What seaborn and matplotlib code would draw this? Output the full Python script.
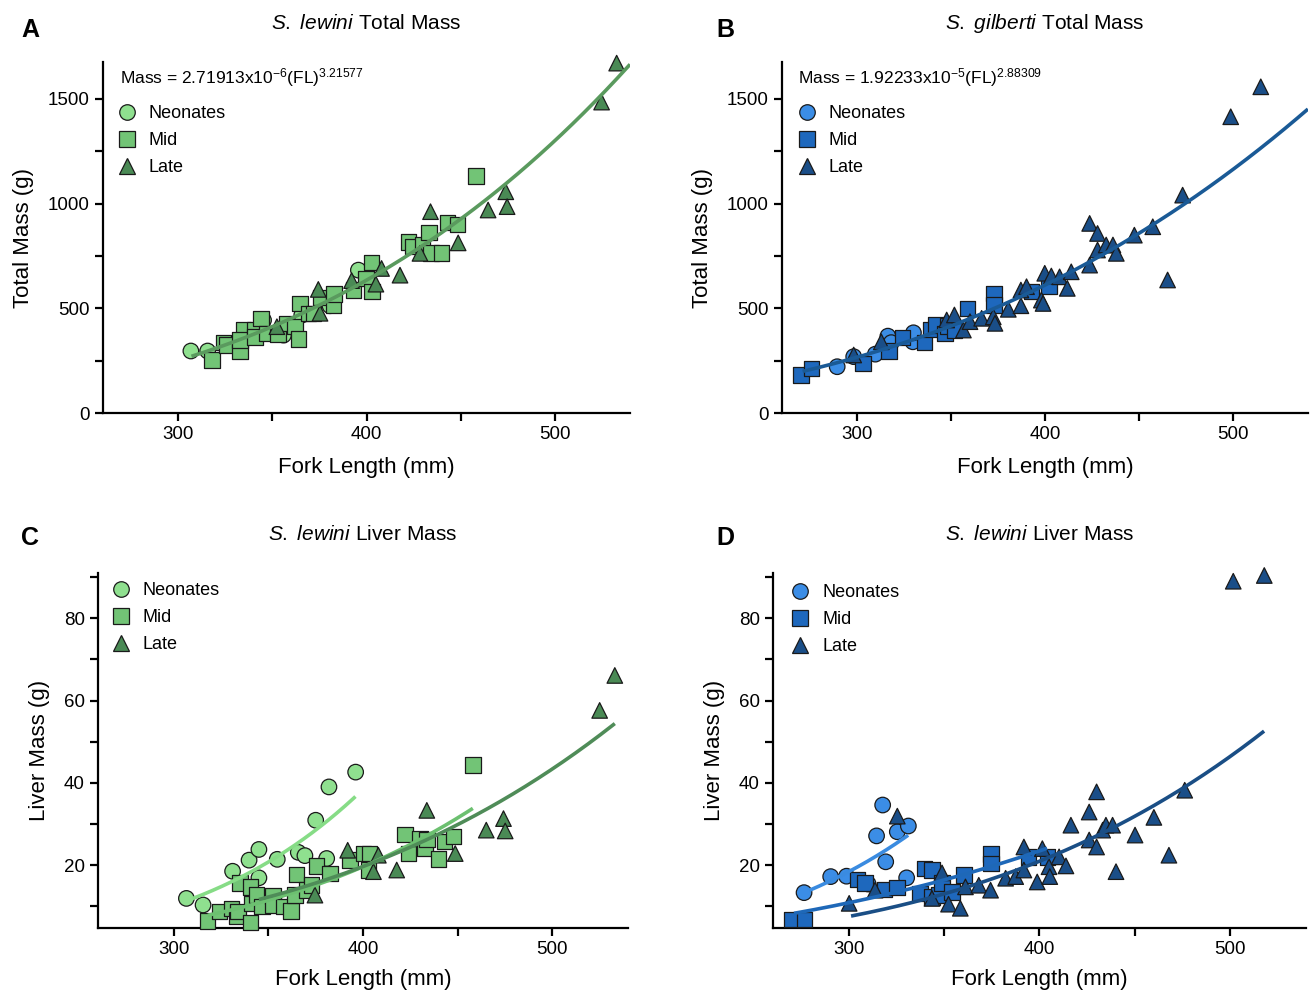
import numpy as np
import pandas as pd
import matplotlib
matplotlib.use('Agg')
import matplotlib.pyplot as plt
import seaborn as sns

sns.set_style('ticks')
plt.rcParams['font.family'] = ['Liberation Sans', 'DejaVu Sans']
plt.rcParams['mathtext.fontset'] = 'custom'
plt.rcParams['mathtext.rm'] = 'Liberation Sans'
plt.rcParams['mathtext.it'] = 'Liberation Sans:italic'
plt.rcParams['mathtext.bf'] = 'Liberation Sans:bold'
plt.rcParams['text.color'] = 'black'
plt.rcParams['axes.labelcolor'] = 'black'

# ---- data ----
# A: S. lewini total mass
A_neo_fl = [306.7, 315.6, 345.3, 355.9, 365.6, 380.6, 395.7]
A_neo_mass = [296, 296, 443, 372, 467, 512, 682]
A_mid_fl = [317.9, 324.0, 325.8, 332.9, 334.7, 332.9, 340.8, 340.8, 344.0, 347.0, 352.9,
            357.6, 362.0, 363.8, 364.7, 369.1, 371.8, 375.9, 382.4, 382.8, 393.0, 399.7,
            402.7, 402.9, 422.2, 424.8, 429.8, 433.2, 434.2, 439.9, 443.0, 448.3, 458.1]
A_mid_mass = [253, 336, 324, 293, 396, 348, 396, 364, 452, 380, 377, 428, 412, 353, 523, 476,
              476, 552, 515, 568, 587, 642, 719, 579, 817, 794, 805, 862, 765, 765, 910, 900, 1131]
A_late_fl = [352.4, 374.4, 375.3, 392.1, 405.0, 408.0, 417.8, 428.4, 434.0, 448.7, 464.6,
             474.0, 474.7, 524.9, 532.9]
A_late_mass = [412, 590, 476, 632, 615, 690, 658, 762, 961, 812, 969, 1056, 985, 1484, 1670]

# B: S. gilberti total mass
B_neo_fl = [289.4, 298.2, 309.7, 316.4, 318.2, 329.7, 330.0]
B_neo_mass = [221, 269, 281, 367, 336, 340, 383]
B_mid_fl = [270.0, 275.8, 303.2, 317.1, 324.2, 335.9, 339.0, 341.9, 346.9, 348.1, 351.8,
            358.7, 372.9, 372.9, 392.8, 402.2]
B_mid_mass = [181, 213, 237, 296, 361, 336, 399, 420, 380, 415, 393, 500, 571, 515, 579, 603]
B_late_fl = [298.2, 312.9, 347.7, 351.8, 356.6, 360.1, 366.3, 372.5, 373.4, 380.5, 387.2,
             387.2, 390.2, 398.1, 399.0, 399.9, 403.4, 407.8, 411.9, 414.0, 423.8, 423.8,
             428.0, 428.0, 432.6, 436.2, 438.0, 447.6, 457.4, 465.3, 473.3, 498.9, 514.9]
B_late_mass = [277, 340, 444, 468, 396, 436, 452, 459, 428, 495, 512, 587, 603, 539, 523, 667,
               654, 650, 595, 674, 706, 905, 857, 778, 802, 802, 762, 849, 889, 635, 1040, 1414, 1557]

# C: S. lewini liver mass
C_neo_fl = [306.7, 315.5, 331.1, 339.8, 345.0, 345.0, 354.7, 365.8, 369.3, 380.8, 375.0, 382.0, 396.1]
C_neo_liver = [11.9, 10.3, 18.5, 21.2, 23.8, 16.9, 21.4, 23.1, 22.3, 21.6, 30.9, 39.0, 42.6]
C_mid_fl = [317.8, 324.3, 330.5, 333.2, 334.0, 334.9, 340.6, 340.6, 341.1, 343.8, 346.7, 352.5,
            352.5, 358.0, 362.0, 364.0, 364.9, 370.2, 372.8, 375.5, 382.5, 393.1, 400.2, 403.3,
            402.8, 422.2, 424.0, 430.2, 432.8, 433.7, 439.8, 443.0, 447.8, 458.0]
C_mid_liver = [6.4, 8.7, 9.5, 7.5, 8.7, 15.6, 14.7, 6.0, 10.7, 12.7, 9.9, 12.5, 10.3, 9.9, 8.9,
               12.7, 17.7, 13.9, 15.1, 19.8, 18.0, 21.2, 22.8, 22.8, 18.8, 27.4, 22.8, 26.5,
               24.1, 26.2, 21.5, 25.7, 26.9, 44.3]
C_late_fl = [374.6, 391.9, 405.5, 408.1, 417.8, 433.7, 448.7, 465.1, 474.2, 475.1, 525.0, 533.0]
C_late_liver = [12.7, 23.6, 18.4, 22.4, 18.8, 33.3, 22.8, 28.5, 31.3, 28.3, 57.6, 66.1]

# D: liver mass (blue panel)
D_neo_fl = [276.3, 290.3, 298.6, 310.0, 314.4, 317.6, 319.2, 325.3, 330.2, 331.1]
D_neo_liver = [13.3, 17.2, 17.3, 15.4, 27.1, 34.6, 20.8, 28.1, 16.9, 29.5]
D_mid_fl = [270.1, 276.6, 304.4, 308.3, 318.5, 325.0, 337.3, 339.5, 343.5, 343.5, 347.0, 348.8,
            354.0, 360.2, 374.6, 374.6, 394.1, 404.1]
D_mid_liver = [6.8, 6.8, 16.5, 15.6, 14.1, 14.6, 13.1, 19.2, 18.8, 12.3, 12.7, 15.6, 13.5, 17.6,
               22.7, 20.4, 22.0, 22.0]
D_late_fl = [300.0, 313.6, 325.3, 343.5, 348.8, 352.2, 358.4, 361.1, 368.1, 374.3, 382.2, 387.5,
             391.8, 391.8, 398.8, 401.5, 405.0, 405.4, 410.3, 413.9, 416.5, 426.1, 426.1, 430.0,
             430.0, 433.2, 434.9, 438.4, 440.2, 450.2, 460.1, 468.0, 476.3, 501.8, 518.1]
D_late_liver = [10.7, 13.9, 31.9, 11.9, 18.1, 10.5, 9.5, 14.7, 15.1, 13.9, 16.8, 17.2, 18.8, 24.4,
                15.9, 24.0, 19.6, 17.2, 22.0, 19.8, 29.7, 32.9, 26.1, 37.8, 24.4, 28.5, 29.7,
                29.7, 18.4, 27.3, 31.6, 22.4, 38.2, 89.0, 90.4]

# power-law fits: (a, b, x_start, x_end)
A_fit = (2.71913e-6, 3.21577, 307, 540)
B_fit = (1.92233e-5, 2.88309, 271, 540)
C_fits = {'Neonates': (3.927e-11, 4.608, 310, 396),
          'Mid': (6.793e-10, 4.02, 318, 458),
          'Late': (1.1585e-8, 3.547, 345, 533)}
D_fits = {'Neonates': (2.735e-9, 3.968, 279, 331),
          'Mid': (2.568e-6, 2.675, 271, 404),
          'Late': (1.142e-8, 3.56, 301, 518)}

stages = ['Neonates', 'Mid', 'Late']
markers = {'Neonates': 'o', 'Mid': 's', 'Late': '^'}
green = {'Neonates': '#8fe08f', 'Mid': '#72c476', 'Late': '#4a8a55'}
green_line = {'Neonates': '#86dc86', 'Mid': '#6cc070', 'Late': '#4f8c58'}
blue = {'Neonates': '#3b8de6', 'Mid': '#1e68bd', 'Late': '#1a4e88'}
blue_line = {'Neonates': '#3a8be0', 'Mid': '#1e68b8', 'Late': '#1a4e85'}


def make_df(neo, mid, late):
    rows = []
    for st, (xs, ys) in zip(stages, [neo, mid, late]):
        rows.append(pd.DataFrame({'FL': xs, 'val': ys, 'Stage': st}))
    return pd.concat(rows, ignore_index=True)


def curve(ax, fit, color):
    a, b, x0, x1 = fit
    xs = np.linspace(x0, x1, 200)
    ax.plot(xs, a * xs ** b, color=color, lw=2.6, zorder=5, solid_capstyle='butt')


def style_axis(ax, liver):
    ax.set_xlim(260, 540)
    ax.set_xticks([300, 400, 500])
    ax.set_xticks([350, 450], minor=True)
    if liver:
        ax.set_ylim(4.7, 91)
        ax.set_yticks([20, 40, 60, 80])
        ax.set_yticks([10, 30, 50, 70, 90], minor=True)
    else:
        ax.set_ylim(0, 1675)
        ax.set_yticks([0, 500, 1000, 1500])
        ax.set_yticks([250, 750, 1250], minor=True)
    for s in ['top', 'right']:
        ax.spines[s].set_visible(False)
    for s in ['left', 'bottom']:
        ax.spines[s].set_linewidth(1.6)
        ax.spines[s].set_color('black')
    ax.tick_params(which='both', direction='out', length=6, width=1.6, colors='black',
                   labelsize=13.5)
    ax.set_xlabel('Fork Length (mm)', fontsize=16, labelpad=8 if liver else 10)
    ax.set_ylabel('Liver Mass (g)' if liver else 'Total Mass (g)', fontsize=16, labelpad=10)


def scatter(ax, df, pal, legend_anchor):
    sns.scatterplot(data=df, x='FL', y='val', hue='Stage', style='Stage', hue_order=stages,
                    style_order=stages, palette=pal, markers=markers, s=125,
                    edgecolor='#1a1a1a', linewidth=0.9, ax=ax, zorder=3, clip_on=False)
    h, l = ax.get_legend_handles_labels()
    ax.legend(h, l, loc='upper left', bbox_to_anchor=legend_anchor, frameon=False,
              fontsize=13, handletextpad=0.2, labelspacing=0.55, borderaxespad=0,
              markerscale=1.0)


fig = plt.figure(figsize=(13.12, 9.9), dpi=100)
axA = fig.add_axes([0.0785, 0.5828, 0.4017, 0.3545])
axB = fig.add_axes([0.5960, 0.5828, 0.4009, 0.3545])
axC = fig.add_axes([0.0747, 0.0626, 0.4040, 0.3586])
axD = fig.add_axes([0.5892, 0.0626, 0.4062, 0.3586])

# A
dfA = make_df((A_neo_fl, A_neo_mass), (A_mid_fl, A_mid_mass), (A_late_fl, A_late_mass))
scatter(axA, dfA, green, (-0.002, 0.897))
curve(axA, A_fit, '#5a9a5e')
style_axis(axA, False)
axA.text(0.032, 0.957, r'Mass = 2.71913x10$^{-6}$(FL)$^{3.21577}$', transform=axA.transAxes,
         fontsize=12.5, va='center', ha='left')
axA.set_title(r'$\mathit{S.\ lewini}$ Total Mass', fontsize=15, pad=24)

# B
dfB = make_df((B_neo_fl, B_neo_mass), (B_mid_fl, B_mid_mass), (B_late_fl, B_late_mass))
scatter(axB, dfB, blue, (0.0, 0.897))
curve(axB, B_fit, '#1a5a96')
style_axis(axB, False)
axB.text(0.030, 0.957, r'Mass = 1.92233x10$^{-5}$(FL)$^{2.88309}$', transform=axB.transAxes,
         fontsize=12.5, va='center', ha='left')
axB.set_title(r'$\mathit{S.\ gilberti}$ Total Mass', fontsize=15, pad=24)

# C
dfC = make_df((C_neo_fl, C_neo_liver), (C_mid_fl, C_mid_liver), (C_late_fl, C_late_liver))
scatter(axC, dfC, green, (-0.004, 0.995))
for st in stages:
    curve(axC, C_fits[st], green_line[st])
style_axis(axC, True)
axC.set_title(r'$\mathit{S.\ lewini}$ Liver Mass', fontsize=15, pad=24)

# D
dfD = make_df((D_neo_fl, D_neo_liver), (D_mid_fl, D_mid_liver), (D_late_fl, D_late_liver))
scatter(axD, dfD, blue, (0.004, 0.988))
for st in stages:
    curve(axD, D_fits[st], blue_line[st])
style_axis(axD, True)
axD.set_title(r'$\mathit{S.\ lewini}$ Liver Mass', fontsize=15, pad=24)

for lbl, (x, y) in zip('ABCD', [(30, 30), (725, 30), (30, 538), (725, 538)]):
    fig.text(x / 1312, 1 - y / 990, lbl, fontsize=18, fontweight='bold', ha='center', va='center')

fig.savefig('out.png', dpi=100)
